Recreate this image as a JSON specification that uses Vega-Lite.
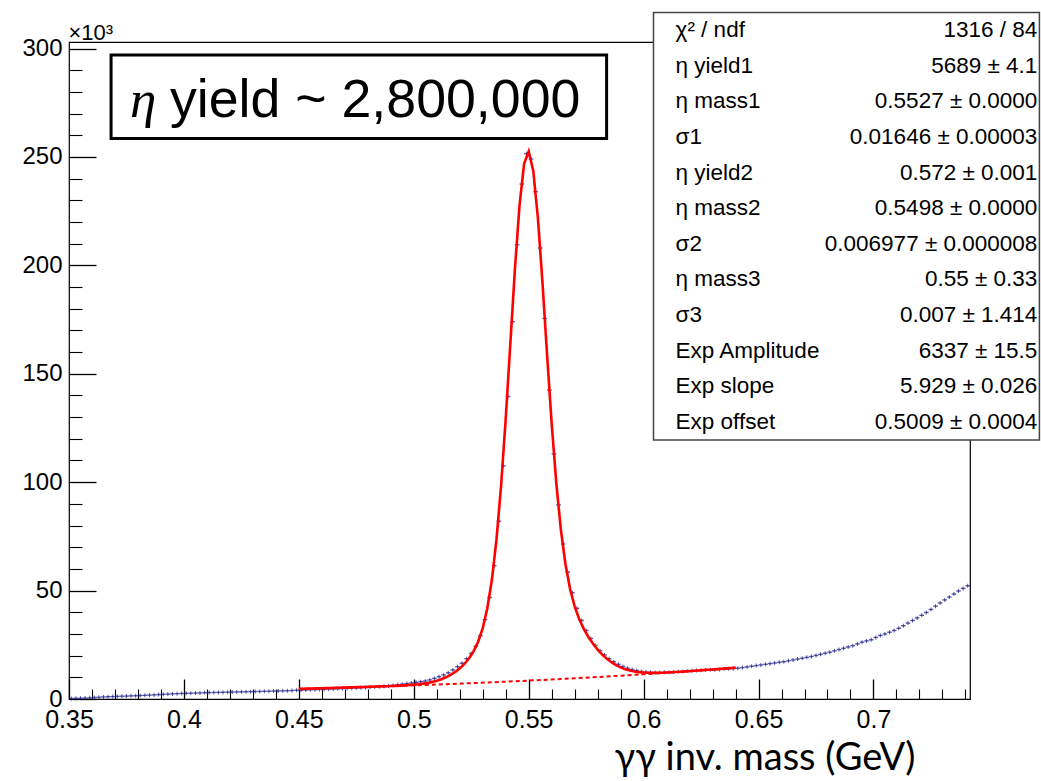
{
  "$schema": "https://vega.github.io/schema/vega-lite/v6.json",
  "description": "gamma-gamma invariant mass, eta peak fit",
  "width": 901,
  "height": 657,
  "autosize": {"type": "none"},
  "padding": {"left": 69, "top": 42, "right": 71, "bottom": 82},
  "background": "white",
  "config": {
    "view": {"stroke": "black", "strokeWidth": 1.2},
    "axis": {"labelColor": "black", "tickColor": "black", "titleColor": "black"}
  },
  "datasets": {
    "hist": [
      {"m": 0.351, "n": 0.25}, {"m": 0.353, "n": 0.3}, {"m": 0.355, "n": 0.35}, {"m": 0.357, "n": 0.45},
      {"m": 0.359, "n": 0.55}, {"m": 0.361, "n": 0.7}, {"m": 0.363, "n": 0.8}, {"m": 0.365, "n": 0.95},
      {"m": 0.367, "n": 1.05}, {"m": 0.369, "n": 1.1}, {"m": 0.371, "n": 1.2}, {"m": 0.373, "n": 1.3},
      {"m": 0.375, "n": 1.35}, {"m": 0.377, "n": 1.45}, {"m": 0.379, "n": 1.5}, {"m": 0.381, "n": 1.6},
      {"m": 0.383, "n": 1.7}, {"m": 0.385, "n": 1.8}, {"m": 0.387, "n": 1.9}, {"m": 0.389, "n": 2.05},
      {"m": 0.391, "n": 2.15}, {"m": 0.393, "n": 2.25}, {"m": 0.395, "n": 2.35}, {"m": 0.397, "n": 2.45},
      {"m": 0.399, "n": 2.55}, {"m": 0.401, "n": 2.6}, {"m": 0.403, "n": 2.65}, {"m": 0.405, "n": 2.75},
      {"m": 0.407, "n": 2.8}, {"m": 0.409, "n": 2.9}, {"m": 0.411, "n": 2.95}, {"m": 0.413, "n": 3.0},
      {"m": 0.415, "n": 3.05}, {"m": 0.417, "n": 3.1}, {"m": 0.419, "n": 3.15}, {"m": 0.421, "n": 3.2},
      {"m": 0.423, "n": 3.25}, {"m": 0.425, "n": 3.3}, {"m": 0.427, "n": 3.35}, {"m": 0.429, "n": 3.4},
      {"m": 0.431, "n": 3.45}, {"m": 0.433, "n": 3.5}, {"m": 0.435, "n": 3.55}, {"m": 0.437, "n": 3.6},
      {"m": 0.439, "n": 3.65}, {"m": 0.441, "n": 3.7}, {"m": 0.443, "n": 3.75}, {"m": 0.445, "n": 3.8},
      {"m": 0.447, "n": 3.9}, {"m": 0.449, "n": 4.0}, {"m": 0.451, "n": 4.1}, {"m": 0.453, "n": 4.15},
      {"m": 0.455, "n": 4.25}, {"m": 0.457, "n": 4.3}, {"m": 0.459, "n": 4.4}, {"m": 0.461, "n": 4.5},
      {"m": 0.463, "n": 4.55}, {"m": 0.465, "n": 4.65}, {"m": 0.467, "n": 4.75}, {"m": 0.469, "n": 4.8},
      {"m": 0.471, "n": 4.9}, {"m": 0.473, "n": 5.0}, {"m": 0.475, "n": 5.1}, {"m": 0.477, "n": 5.2},
      {"m": 0.479, "n": 5.3}, {"m": 0.481, "n": 5.45}, {"m": 0.483, "n": 5.55}, {"m": 0.485, "n": 5.7},
      {"m": 0.487, "n": 5.85}, {"m": 0.489, "n": 6.05}, {"m": 0.491, "n": 6.25}, {"m": 0.493, "n": 6.55},
      {"m": 0.495, "n": 6.85}, {"m": 0.497, "n": 7.1}, {"m": 0.499, "n": 7.4}, {"m": 0.501, "n": 7.7},
      {"m": 0.503, "n": 8.0}, {"m": 0.505, "n": 8.3}, {"m": 0.507, "n": 8.8}, {"m": 0.509, "n": 9.5},
      {"m": 0.511, "n": 10.3}, {"m": 0.513, "n": 11.1}, {"m": 0.515, "n": 12.1}, {"m": 0.517, "n": 13.4},
      {"m": 0.519, "n": 14.9}, {"m": 0.521, "n": 16.5}, {"m": 0.523, "n": 18.6}, {"m": 0.525, "n": 21.0},
      {"m": 0.527, "n": 24.3}, {"m": 0.529, "n": 29.2}, {"m": 0.531, "n": 36.6}, {"m": 0.533, "n": 46.8},
      {"m": 0.535, "n": 61.5}, {"m": 0.537, "n": 82.0}, {"m": 0.539, "n": 107.5}, {"m": 0.541, "n": 139.5},
      {"m": 0.543, "n": 174.0}, {"m": 0.545, "n": 209.5}, {"m": 0.547, "n": 237.5}, {"m": 0.549, "n": 251.5},
      {"m": 0.551, "n": 249.0}, {"m": 0.553, "n": 234.0}, {"m": 0.555, "n": 208.0}, {"m": 0.557, "n": 175.5},
      {"m": 0.559, "n": 142.5}, {"m": 0.561, "n": 113.0}, {"m": 0.563, "n": 89.5}, {"m": 0.565, "n": 71.5},
      {"m": 0.567, "n": 58.5}, {"m": 0.569, "n": 49.0}, {"m": 0.571, "n": 41.8}, {"m": 0.573, "n": 36.2},
      {"m": 0.575, "n": 31.6}, {"m": 0.577, "n": 27.9}, {"m": 0.579, "n": 24.7}, {"m": 0.581, "n": 22.3},
      {"m": 0.583, "n": 20.3}, {"m": 0.585, "n": 18.6}, {"m": 0.587, "n": 17.2}, {"m": 0.589, "n": 16.0},
      {"m": 0.591, "n": 15.0}, {"m": 0.593, "n": 14.2}, {"m": 0.595, "n": 13.6}, {"m": 0.597, "n": 13.1},
      {"m": 0.599, "n": 12.7}, {"m": 0.601, "n": 12.4}, {"m": 0.603, "n": 12.3}, {"m": 0.605, "n": 12.2},
      {"m": 0.607, "n": 12.2}, {"m": 0.609, "n": 12.3}, {"m": 0.611, "n": 12.3}, {"m": 0.613, "n": 12.5},
      {"m": 0.615, "n": 12.6}, {"m": 0.617, "n": 12.7}, {"m": 0.619, "n": 12.9}, {"m": 0.621, "n": 13.0},
      {"m": 0.623, "n": 13.1}, {"m": 0.625, "n": 13.3}, {"m": 0.627, "n": 13.4}, {"m": 0.629, "n": 13.5},
      {"m": 0.631, "n": 13.5}, {"m": 0.633, "n": 13.6}, {"m": 0.635, "n": 13.8}, {"m": 0.637, "n": 13.9},
      {"m": 0.639, "n": 14.0}, {"m": 0.641, "n": 14.2}, {"m": 0.643, "n": 14.5}, {"m": 0.645, "n": 14.8},
      {"m": 0.647, "n": 15.1}, {"m": 0.649, "n": 15.4}, {"m": 0.651, "n": 15.7}, {"m": 0.653, "n": 16.0},
      {"m": 0.655, "n": 16.3}, {"m": 0.657, "n": 16.6}, {"m": 0.659, "n": 16.9}, {"m": 0.661, "n": 17.2},
      {"m": 0.663, "n": 17.6}, {"m": 0.665, "n": 18.0}, {"m": 0.667, "n": 18.4}, {"m": 0.669, "n": 18.8},
      {"m": 0.671, "n": 19.2}, {"m": 0.673, "n": 19.6}, {"m": 0.675, "n": 20.1}, {"m": 0.677, "n": 20.6},
      {"m": 0.679, "n": 21.1}, {"m": 0.681, "n": 21.6}, {"m": 0.683, "n": 22.2}, {"m": 0.685, "n": 22.8},
      {"m": 0.687, "n": 23.4}, {"m": 0.689, "n": 24.0}, {"m": 0.691, "n": 24.6}, {"m": 0.693, "n": 25.4},
      {"m": 0.695, "n": 26.2}, {"m": 0.697, "n": 26.8}, {"m": 0.699, "n": 27.3}, {"m": 0.701, "n": 28.4},
      {"m": 0.703, "n": 29.3}, {"m": 0.705, "n": 30.0}, {"m": 0.707, "n": 30.8}, {"m": 0.709, "n": 31.6},
      {"m": 0.711, "n": 32.6}, {"m": 0.713, "n": 33.8}, {"m": 0.715, "n": 35.0}, {"m": 0.717, "n": 36.2},
      {"m": 0.719, "n": 37.4}, {"m": 0.721, "n": 38.6}, {"m": 0.723, "n": 39.9}, {"m": 0.725, "n": 41.3},
      {"m": 0.727, "n": 42.8}, {"m": 0.729, "n": 44.3}, {"m": 0.731, "n": 45.7}, {"m": 0.733, "n": 47.0},
      {"m": 0.735, "n": 48.4}, {"m": 0.737, "n": 49.8}, {"m": 0.739, "n": 51.0}, {"m": 0.741, "n": 52.2}
    ],
    "fit": [
      {"m": 0.450, "f": 4.69}, {"m": 0.452, "f": 4.74}, {"m": 0.454, "f": 4.80}, {"m": 0.456, "f": 4.86},
      {"m": 0.458, "f": 4.91}, {"m": 0.460, "f": 4.97}, {"m": 0.462, "f": 5.03}, {"m": 0.464, "f": 5.09},
      {"m": 0.466, "f": 5.15}, {"m": 0.468, "f": 5.21}, {"m": 0.470, "f": 5.28}, {"m": 0.472, "f": 5.34},
      {"m": 0.474, "f": 5.40}, {"m": 0.476, "f": 5.47}, {"m": 0.478, "f": 5.53}, {"m": 0.480, "f": 5.60},
      {"m": 0.482, "f": 5.67}, {"m": 0.484, "f": 5.74}, {"m": 0.486, "f": 5.81}, {"m": 0.488, "f": 5.89},
      {"m": 0.490, "f": 5.98}, {"m": 0.492, "f": 6.07}, {"m": 0.494, "f": 6.17}, {"m": 0.496, "f": 6.29},
      {"m": 0.498, "f": 6.43}, {"m": 0.500, "f": 6.60}, {"m": 0.502, "f": 6.81}, {"m": 0.504, "f": 7.08},
      {"m": 0.506, "f": 7.42}, {"m": 0.508, "f": 7.86}, {"m": 0.510, "f": 8.42}, {"m": 0.512, "f": 9.12},
      {"m": 0.514, "f": 10.00}, {"m": 0.516, "f": 11.10}, {"m": 0.518, "f": 12.45}, {"m": 0.520, "f": 14.11},
      {"m": 0.522, "f": 16.15}, {"m": 0.524, "f": 18.69}, {"m": 0.526, "f": 21.98}, {"m": 0.528, "f": 26.41},
      {"m": 0.530, "f": 32.69}, {"m": 0.532, "f": 41.83}, {"m": 0.534, "f": 55.08}, {"m": 0.536, "f": 73.72},
      {"m": 0.538, "f": 98.53}, {"m": 0.540, "f": 129.18}, {"m": 0.542, "f": 163.64}, {"m": 0.544, "f": 198.11},
      {"m": 0.546, "f": 227.54}, {"m": 0.548, "f": 246.88}, {"m": 0.550, "f": 252.53}, {"m": 0.552, "f": 243.54},
      {"m": 0.554, "f": 221.93}, {"m": 0.556, "f": 191.94}, {"m": 0.558, "f": 158.75}, {"m": 0.560, "f": 126.94},
      {"m": 0.562, "f": 99.63}, {"m": 0.564, "f": 78.08}, {"m": 0.566, "f": 62.13}, {"m": 0.568, "f": 50.75},
      {"m": 0.570, "f": 42.69}, {"m": 0.572, "f": 36.80}, {"m": 0.574, "f": 32.27}, {"m": 0.576, "f": 28.59},
      {"m": 0.578, "f": 25.48}, {"m": 0.580, "f": 22.81}, {"m": 0.582, "f": 20.51}, {"m": 0.584, "f": 18.57},
      {"m": 0.586, "f": 16.96}, {"m": 0.588, "f": 15.64}, {"m": 0.590, "f": 14.58}, {"m": 0.592, "f": 13.77},
      {"m": 0.594, "f": 13.15}, {"m": 0.596, "f": 12.71}, {"m": 0.598, "f": 12.40}, {"m": 0.600, "f": 12.21},
      {"m": 0.602, "f": 12.10}, {"m": 0.604, "f": 12.07}, {"m": 0.606, "f": 12.08}, {"m": 0.608, "f": 12.14},
      {"m": 0.610, "f": 12.22}, {"m": 0.612, "f": 12.32}, {"m": 0.614, "f": 12.44}, {"m": 0.616, "f": 12.57},
      {"m": 0.618, "f": 12.71}, {"m": 0.620, "f": 12.85}, {"m": 0.622, "f": 13.00}, {"m": 0.624, "f": 13.15},
      {"m": 0.626, "f": 13.31}, {"m": 0.628, "f": 13.46}, {"m": 0.630, "f": 13.62}, {"m": 0.632, "f": 13.79},
      {"m": 0.634, "f": 13.95}, {"m": 0.636, "f": 14.12}, {"m": 0.638, "f": 14.28}, {"m": 0.640, "f": 14.46}
    ],
    "bkg": [
      {"m": 0.45, "b": 4.686}, {"m": 0.46, "b": 4.972}, {"m": 0.47, "b": 5.276}, {"m": 0.48, "b": 5.598},
      {"m": 0.49, "b": 5.940}, {"m": 0.50, "b": 6.303}, {"m": 0.51, "b": 6.688}, {"m": 0.52, "b": 7.097},
      {"m": 0.53, "b": 7.530}, {"m": 0.54, "b": 7.990}, {"m": 0.55, "b": 8.478}, {"m": 0.56, "b": 8.996},
      {"m": 0.57, "b": 9.546}, {"m": 0.58, "b": 10.129}, {"m": 0.59, "b": 10.747}, {"m": 0.60, "b": 11.404},
      {"m": 0.61, "b": 12.100}, {"m": 0.62, "b": 12.839}, {"m": 0.63, "b": 13.623}, {"m": 0.64, "b": 14.456}
    ],
    "stats": [
      {"row": 0, "k": "χ² / ndf", "v": "1316 / 84"},
      {"row": 1, "k": "η yield1", "v": "5689 ± 4.1"},
      {"row": 2, "k": "η mass1", "v": "0.5527 ± 0.0000"},
      {"row": 3, "k": "σ1", "v": "0.01646 ± 0.00003"},
      {"row": 4, "k": "η yield2", "v": "0.572 ± 0.001"},
      {"row": 5, "k": "η mass2", "v": "0.5498 ± 0.0000"},
      {"row": 6, "k": "σ2", "v": "0.006977 ± 0.000008"},
      {"row": 7, "k": "η mass3", "v": "0.55 ± 0.33"},
      {"row": 8, "k": "σ3", "v": "0.007 ± 1.414"},
      {"row": 9, "k": "Exp Amplitude", "v": "6337 ± 15.5"},
      {"row": 10, "k": "Exp slope", "v": "5.929 ± 0.026"},
      {"row": 11, "k": "Exp offset", "v": "0.5009 ± 0.0004"}
    ]
  },
  "layer": [
    {
      "layer": [
        {
          "data": {"name": "hist"},
          "mark": {"type": "tick", "orient": "horizontal", "size": 4.6, "thickness": 1.4, "color": "#141488"},
          "encoding": {
            "x": {
              "field": "m", "type": "quantitative",
              "scale": {"domain": [0.35, 0.742], "nice": false, "zero": false},
              "axis": {
                "orient": "bottom", "values": [0.35, 0.4, 0.45, 0.5, 0.55, 0.6, 0.65, 0.7], "format": "~g",
                "tickSize": -20, "tickWidth": 1.3, "labelPadding": 28, "domain": false, "grid": false,
                "labelFont": "Liberation Sans", "labelFontSize": 25, "labelFlush": false, "labelOverlap": false, "labelBound": false,
                "title": "γγ inv. mass (GeV)", "titleFont": "Lato", "titleFontSize": 38, "titleFontWeight": "normal",
                "titleAlign": "right", "titleBaseline": "alphabetic", "titleX": 846, "titleY": 70
              }
            },
            "y": {
              "field": "n", "type": "quantitative",
              "scale": {"domain": [0, 303], "nice": false, "zero": false},
              "axis": {
                "orient": "left", "values": [0, 50, 100, 150, 200, 250, 300], "format": "d",
                "tickSize": -27, "tickWidth": 1.3, "labelPadding": 34, "domain": false, "grid": false,
                "labelFont": "Liberation Sans", "labelFontSize": 24, "labelFlush": false, "labelOverlap": false,
                "title": "×10³", "titleFont": "Liberation Sans", "titleFontSize": 22, "titleFontWeight": "normal",
                "titleAngle": 0, "titleAlign": "left", "titleBaseline": "alphabetic", "titleX": -1, "titleY": -3
              }
            }
          }
        },
        {
          "data": {"name": "hist"},
          "mark": {"type": "tick", "orient": "vertical", "size": 4, "thickness": 1, "color": "#101080"},
          "encoding": {
            "x": {
              "field": "m", "type": "quantitative",
              "axis": {
                "orient": "bottom",
                "values": [0.36, 0.37, 0.38, 0.39, 0.41, 0.42, 0.43, 0.44, 0.46, 0.47, 0.48, 0.49, 0.51, 0.52, 0.53, 0.54, 0.56, 0.57, 0.58, 0.59, 0.61, 0.62, 0.63, 0.64, 0.66, 0.67, 0.68, 0.69, 0.71, 0.72, 0.73, 0.74],
                "tickSize": -10, "tickWidth": 1.1, "labels": false, "domain": false, "grid": false, "title": null
              }
            },
            "y": {
              "field": "n", "type": "quantitative",
              "axis": {
                "orient": "left",
                "values": [10, 20, 30, 40, 60, 70, 80, 90, 110, 120, 130, 140, 160, 170, 180, 190, 210, 220, 230, 240, 260, 270, 280, 290],
                "tickSize": -13, "tickWidth": 1.1, "labels": false, "domain": false, "grid": false, "title": null
              }
            }
          }
        },
        {
          "data": {"name": "bkg"},
          "mark": {"type": "line", "color": "#ff0000", "strokeWidth": 2, "strokeDash": [4, 3]},
          "encoding": {
            "x": {"field": "m", "type": "quantitative", "axis": null},
            "y": {"field": "b", "type": "quantitative", "axis": null}
          }
        },
        {
          "data": {"name": "fit"},
          "mark": {"type": "line", "color": "#ff0000", "strokeWidth": 2.6},
          "encoding": {
            "x": {"field": "m", "type": "quantitative", "axis": null},
            "y": {"field": "f", "type": "quantitative", "axis": null}
          }
        },
        {
          "data": {"values": [{}]},
          "mark": {"type": "rect", "fill": "white", "stroke": "black", "strokeWidth": 3},
          "encoding": {
            "x": {"datum": 0.3683, "type": "quantitative", "axis": null},
            "x2": {"datum": 0.5839},
            "y": {"datum": 297, "type": "quantitative", "axis": null},
            "y2": {"datum": 258.5}
          }
        },
        {
          "data": {"values": [{}]},
          "mark": {"type": "text", "text": "η", "font": "Liberation Serif", "fontStyle": "italic", "fontSize": 53, "align": "left", "baseline": "alphabetic", "color": "black"},
          "encoding": {
            "x": {"datum": 0.3765, "type": "quantitative", "axis": null},
            "y": {"datum": 268.6, "type": "quantitative", "axis": null}
          }
        },
        {
          "data": {"values": [{}]},
          "mark": {"type": "text", "text": "yield ~ 2,800,000", "font": "Liberation Sans", "fontSize": 53.7, "align": "left", "baseline": "alphabetic", "color": "black"},
          "encoding": {
            "x": {"datum": 0.3939, "type": "quantitative", "axis": null},
            "y": {"datum": 268.6, "type": "quantitative", "axis": null}
          }
        },
        {
          "data": {"values": [{}]},
          "mark": {"type": "rect", "fill": "white", "stroke": "#444444", "strokeWidth": 1.5},
          "encoding": {
            "x": {"datum": 0.6043, "type": "quantitative", "axis": null},
            "x2": {"datum": 0.7722},
            "y": {"datum": 316.6, "type": "quantitative", "axis": null},
            "y2": {"datum": 119.5}
          }
        }
      ],
      "resolve": {"axis": {"x": "independent", "y": "independent"}}
    },
    {
      "layer": [
        {
          "data": {"name": "stats"},
          "mark": {"type": "text", "font": "Liberation Sans", "fontSize": 22.5, "align": "left", "baseline": "middle", "color": "black"},
          "encoding": {
            "x": {"datum": 0.6139, "type": "quantitative", "axis": null},
            "y": {
              "field": "row", "type": "ordinal", "axis": null,
              "scale": {"type": "point", "domain": [0, 1, 2, 3, 4, 5, 6, 7, 8, 9, 10, 11], "range": [-12, 380], "padding": 0}
            },
            "text": {"field": "k"}
          }
        },
        {
          "data": {"name": "stats"},
          "mark": {"type": "text", "font": "Liberation Sans", "fontSize": 22.5, "align": "right", "baseline": "middle", "color": "black"},
          "encoding": {
            "x": {"datum": 0.7713, "type": "quantitative", "axis": null},
            "y": {"field": "row", "type": "ordinal", "axis": null},
            "text": {"field": "v"}
          }
        }
      ]
    }
  ],
  "resolve": {"scale": {"y": "independent"}}
}
